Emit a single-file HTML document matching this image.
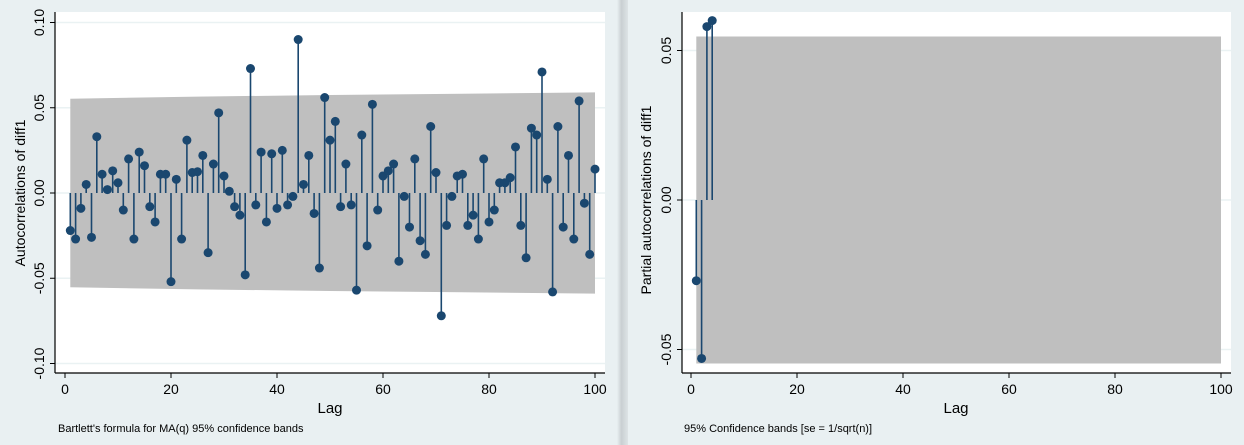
<!DOCTYPE html>
<html><head><meta charset="utf-8">
<style>
body{margin:0;width:1244px;height:445px;overflow:hidden;background:#e9f0f2;font-family:"Liberation Sans",sans-serif;}
svg{display:block}
</style></head><body>
<svg id="chart" width="1244" height="445" xmlns="http://www.w3.org/2000/svg">
<rect x="0" y="0" width="1244" height="445" fill="#e9f0f2"/>
<defs><linearGradient id="sep" x1="0" x2="1"><stop offset="0" stop-color="#e9f0f2"/><stop offset="0.4" stop-color="#c9cfd2"/><stop offset="1" stop-color="#dde4e6"/></linearGradient></defs>
<rect x="617" y="0" width="11" height="445" fill="url(#sep)"/>
<g id="acf"></g>
<g id="pacf"></g>
</svg>
<script>
const acfLags = Array.from({length:100},(_, i)=>i+1);
const acfValues = [-0.022,-0.027,-0.009,0.005,-0.026,0.033,0.011,0.002,0.013,0.006,
-0.010,0.020,-0.027,0.024,0.016,-0.008,-0.017,0.011,0.011,-0.052,
0.008,-0.027,0.031,0.012,0.0125,0.022,-0.035,0.017,0.047,0.010,
0.001,-0.008,-0.013,-0.048,0.073,-0.007,0.024,-0.017,0.023,-0.009,
0.025,-0.007,-0.002,0.090,0.005,0.022,-0.012,-0.044,0.056,0.031,
0.042,-0.008,0.017,-0.007,-0.057,0.034,-0.031,0.052,-0.010,0.010,
0.013,0.017,-0.040,-0.002,-0.020,0.020,-0.028,-0.036,0.039,0.012,
-0.072,-0.019,-0.002,0.010,0.011,-0.019,-0.013,-0.027,0.020,-0.017,
-0.010,0.006,0.006,0.009,0.027,-0.019,-0.038,0.038,0.034,0.071,
0.008,-0.058,0.039,-0.020,0.022,-0.027,0.054,-0.006,-0.036,0.014];
const acfBandLags = [1,25,50,75,100];
const acfBand = [0.0553,0.0565,0.0575,0.0582,0.059];
const acfYTicks = [-0.10,-0.05,0.00,0.05,0.10];
const xTicks = [0,20,40,60,80,100];
const pacfLags = [1,2,3,4];
const pacfValues = [-0.027,-0.053,0.058,0.060];
const pacfBand = 0.0547;
const pacfYTicks = [-0.05,0.00,0.05];

const NS="http://www.w3.org/2000/svg";
function mk(parent,tag,attrs,text){const e=document.createElementNS(NS,tag);for(const k in attrs)e.setAttribute(k,attrs[k]);if(text!==undefined)e.textContent=text;parent.appendChild(e);return e;}

function panel(g,cfg){
  const sx=v=>cfg.x0+(v-0)*(cfg.x100-cfg.x0)/100;
  const sy=v=>cfg.yZero-v*cfg.ppu;
  let r=mk(g,'rect',{x:cfg.left,y:12,width:cfg.right-cfg.left,height:361,fill:'#ffffff'});
  
  
  cfg.yTicks.forEach(t=>{
    let l=mk(g,'line',{x1:cfg.left,x2:cfg.right,y1:sy(t),y2:sy(t),stroke:'#eaf2f3','stroke-width':1.5});
    
    
  });
  let pts;
  if(cfg.bandLags){
    const top=cfg.bandLags.map((L,i)=>sx(L)+','+sy(cfg.band[i]));
    const bot=cfg.bandLags.slice().reverse().map((L,i)=>sx(L)+','+sy(-cfg.band[cfg.band.length-1-i]));
    pts=top.concat(bot).join(' ');
  } else {
    pts=[sx(1)+','+sy(cfg.band),sx(100)+','+sy(cfg.band),sx(100)+','+sy(-cfg.band),sx(1)+','+sy(-cfg.band)].join(' ');
  }
  let b=mk(g,'polygon',{points:pts,fill:'#bfbfbf'});
  
  
  cfg.lags.forEach((L,i)=>{
    const v=cfg.values[i];
    let s=mk(g,'line',{x1:sx(L),x2:sx(L),y1:sy(0),y2:sy(v),stroke:'#1a476f','stroke-width':1.6});
    
    
    let c=mk(g,'circle',{cx:sx(L),cy:sy(v),r:4.5,fill:'#1a476f'});
    
    
  });
  let ya=mk(g,'line',{x1:cfg.left,x2:cfg.left,y1:12,y2:373,stroke:'#000','stroke-width':1.2});
  
  
  let xa=mk(g,'line',{x1:cfg.left,x2:cfg.right,y1:373,y2:373,stroke:'#000','stroke-width':1.2});
  
  
  cfg.yTicks.forEach(t=>{
    const y=sy(t);
    let tk=mk(g,'line',{x1:cfg.left-5,x2:cfg.left,y1:y,y2:y,stroke:'#000'});
    
    
    let tx=mk(g,'text',{x:cfg.left-11,y:y,transform:`rotate(-90 ${cfg.left-11} ${y})`,'text-anchor':'middle','font-size':14,fill:'#000'},t.toFixed(2));
    
    
  });
  xTicks.forEach(t=>{
    const x=sx(t);
    let tk=mk(g,'line',{x1:x,x2:x,y1:373,y2:378,stroke:'#000'});
    
    
    let tx=mk(g,'text',{x:x,y:394,'text-anchor':'middle','font-size':14,fill:'#000'},String(t));
    
    
  });
  let yt=mk(g,'text',{x:cfg.ytX,y:cfg.ytY,transform:`rotate(-90 ${cfg.ytX} ${cfg.ytY})`,'text-anchor':'middle','font-size':14,fill:'#000'},cfg.yTitle);
  
  
  let xt=mk(g,'text',{x:(cfg.x0+cfg.x100)/2,y:413,'text-anchor':'middle','font-size':15,fill:'#000'},'Lag');
  
  
  let nt=mk(g,'text',{x:cfg.noteX,y:432,'font-size':11,fill:'#000'},cfg.note);
  
  
}
panel(document.getElementById('acf'),{left:55,right:605,x0:65,x100:595,yZero:193,ppu:1705,
  lags:acfLags,values:acfValues,bandLags:acfBandLags,band:acfBand,yTicks:acfYTicks,
  yTitle:'Autocorrelations of diff1',ytX:25,ytY:193,note:"Bartlett's formula for MA(q) 95% confidence bands",noteX:58});
panel(document.getElementById('pacf'),{left:682,right:1231,x0:691,x100:1221,yZero:200,ppu:2990,
  lags:pacfLags,values:pacfValues,band:pacfBand,yTicks:pacfYTicks,
  yTitle:'Partial autocorrelations of diff1',ytX:651,ytY:200,note:"95% Confidence bands [se = 1/sqrt(n)]",noteX:684});
</script>
</body></html>
